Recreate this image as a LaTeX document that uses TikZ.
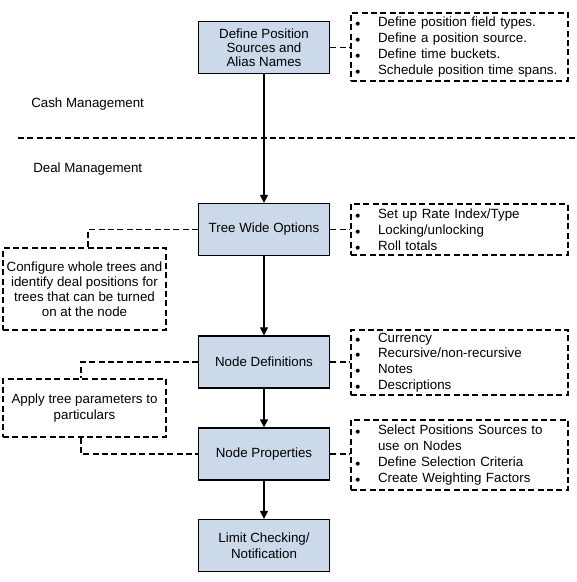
\documentclass[tikz,border=0pt]{standalone}
\usepackage{fontspec}
\setmainfont{Liberation Sans}
\usetikzlibrary{arrows.meta,calc}
\definecolor{boxfill}{RGB}{204,217,235}
\newcommand\bl{\makebox[16.4pt][l]{\hspace{-0.8pt}$\scriptstyle\bullet$}}
\begin{document}
\begin{tikzpicture}[x=0.75pt,y=-0.75pt,
  every node/.style={font=\fontsize{10pt}{11.85pt}\selectfont},
  proc/.style={draw, line width=1pt, fill=boxfill, minimum width=98.25pt, minimum height=39pt, align=center, inner sep=0pt},
  note/.style={draw, line width=0.9pt, dash pattern=on 4.5pt off 2.5pt, inner sep=0pt},
  rnote/.style={note, align=left, text width=155pt, minimum width=162.75pt},
  lnote/.style={note, align=center, minimum width=122.25pt},
  link/.style={line width=0.9pt, dash pattern=on 4.5pt off 2.5pt},
  flow/.style={line width=1pt, -{Triangle[length=6pt,width=6pt]}},
  lbl/.style={anchor=west, inner sep=0pt}]
\useasboundingbox (0,0) rectangle (576,582);

% separator
\coordinate (sepL) at (18,138);
\coordinate (sepR) at (576,138);
\draw[link] (sepL) -- (sepR);
\node[lbl] (cash) at (31,104) {Cash Management};
\node[lbl] (deal) at (33,169) {Deal Management};

% process boxes
\node[proc, font=\fontsize{10pt}{10.5pt}\selectfont] (b1) at (264,47.5) {Define Position\\Sources and\\Alias Names};
\node[proc] (b2) at (264,229.5) {Tree Wide Options};
\node[proc] (b3) at (264,362) {Node Definitions};
\node[proc] (b4) at (264,454) {Node Properties};
\node[proc, font=\fontsize{10pt}{12pt}\selectfont] (b5) at (264,545.5) {Limit Checking/\\Notification};

% right notes
\node[rnote, minimum height=51pt] (r1) at (459.5,47) {\bl Define position field types.\\\bl Define a position source.\\\bl Define time buckets.\\\bl Schedule position time spans.};
\node[rnote, minimum height=38.25pt] (r2) at (459.5,229.5) {\bl Set up Rate Index/Type\\\bl Locking/unlocking\\\bl Roll totals};
\node[rnote, minimum height=48.75pt] (r3) at (459.5,362.5) {\bl Currency\\\bl Recursive/non-recursive\\\bl Notes\\\bl Descriptions};
\node[rnote, minimum height=52.5pt] (r4) at (459.5,455) {\bl Select Positions Sources to\\\hspace*{16.4pt}use on Nodes\\\bl Define Selection Criteria\\\bl Create Weighting Factors};

% left notes
\node[lnote, minimum height=61.5pt, font=\fontsize{10pt}{11.25pt}\selectfont] (l2) at (84.5,289) {Configure whole trees and\\identify deal positions for\\trees that can be turned\\on at the node};
\node[lnote, minimum height=43.5pt, font=\fontsize{10pt}{11.5pt}\selectfont] (l3) at (84.5,408) {Apply tree parameters to\\particulars};

% flow arrows
\draw[flow] (b1) -- (b2);
\draw[flow] (b2) -- (b3);
\draw[flow] (b3) -- (b4);
\draw[flow] (b4) -- (b5);

% dashed links
\draw[link] (b1.east) -- (b1.east -| r1.west);
\draw[link] (b2.east) -- (b2.east -| r2.west);
\draw[link] (b3.east) -- (b3.east -| r3.west);
\draw[link] (b4.east) -- (b4.east -| r4.west);
\draw[link] (b2.west) -| ($(l2.north)+(3.5,0)$);
\draw[link] (b3.west) -| ($(l3.north)+(-3.5,0)$);
\draw[link] ($(l3.south)+(-3.5,0)$) |- (b4.west);
\end{tikzpicture}
\end{document}
